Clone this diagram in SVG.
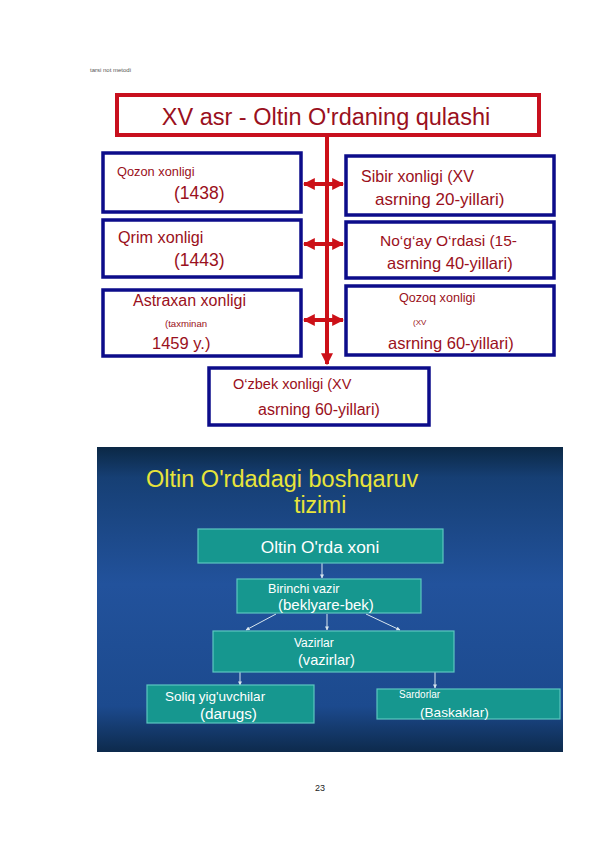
<svg xmlns="http://www.w3.org/2000/svg" width="595" height="842" viewBox="0 0 595 842">
<style>
.rb{fill:#fff;stroke:#c8101e;stroke-width:4}
.bb{fill:#fff;stroke:#0c0c8a;stroke-width:3.5}
.rt{font-family:"Liberation Sans",Arial,sans-serif;fill:#9a1020}
.tb{fill:#16978f;stroke:#5cc7c0;stroke-width:1.2}
.wt{font-family:"Liberation Sans",Arial,sans-serif;fill:#fff}
.yt{font-family:"Liberation Sans",Arial,sans-serif;fill:#e8e43a}
.con{stroke:#cc1018;stroke-width:4;fill:none}
.tl{stroke:#d8e6ee;stroke-width:1;fill:none}
</style>
<defs>
<marker id="ah" viewBox="0 0 10 10" refX="9" refY="5" markerWidth="3" markerHeight="3" orient="auto-start-reverse"><path d="M0,0 L10,5 L0,10 z" fill="#cc1018"/></marker>
<marker id="wa" viewBox="0 0 10 10" refX="9" refY="5" markerWidth="4" markerHeight="4" orient="auto"><path d="M0,0 L10,5 L0,10 z" fill="#d8e6ee"/></marker>
<linearGradient id="bg" x1="0" y1="0" x2="0" y2="1">
<stop offset="0" stop-color="#0b2845"/>
<stop offset="0.1" stop-color="#163f74"/>
<stop offset="0.45" stop-color="#22529c"/>
<stop offset="0.85" stop-color="#1c4a8e"/>
<stop offset="1" stop-color="#0d2a4c"/>
</linearGradient>
</defs>
<rect width="595" height="842" fill="#fff"/>
<text x="90" y="72" font-family="Liberation Sans,Arial,sans-serif" font-size="6" fill="#555">tarsi not metodi</text>

<g id="connectors">
<line class="con" x1="327" y1="135" x2="327" y2="364" marker-end="url(#ah)"/>
<line class="con" x1="304" y1="184" x2="343" y2="184" marker-start="url(#ah)" marker-end="url(#ah)"/>
<line class="con" x1="304" y1="244" x2="343" y2="244" marker-start="url(#ah)" marker-end="url(#ah)"/>
<line class="con" x1="304" y1="320" x2="343" y2="320" marker-start="url(#ah)" marker-end="url(#ah)"/>
</g>

<g id="title">
<rect class="rb" x="117" y="95" width="422" height="40"/>
<text class="rt" x="326" y="125" font-size="23.5" text-anchor="middle">XV asr - Oltin O'rdaning qulashi</text>
</g>
<g id="qozon">
<rect class="bb" x="103" y="153" width="198" height="59"/>
<text class="rt" x="117" y="176" font-size="12.8">Qozon xonligi</text>
<text class="rt" x="174" y="199" font-size="17.5">(1438)</text>
</g>
<g id="qrim">
<rect class="bb" x="103" y="220" width="198" height="57"/>
<text class="rt" x="118" y="243" font-size="16.2">Qrim xonligi</text>
<text class="rt" x="174" y="266" font-size="17.5">(1443)</text>
</g>
<g id="astraxan">
<rect class="bb" x="103" y="290" width="198" height="66"/>
<text class="rt" x="133" y="306" font-size="16">Astraxan xonligi</text>
<text class="rt" x="165" y="327" font-size="9.6">(taxminan</text>
<text class="rt" x="152" y="349" font-size="16.5">1459 y.)</text>
</g>
<g id="sibir">
<rect class="bb" x="346" y="156" width="208" height="59"/>
<text class="rt" x="361" y="182" font-size="16">Sibir xonligi (XV</text>
<text class="rt" x="375" y="205" font-size="17">asrning 20-yillari)</text>
</g>
<g id="nogay">
<rect class="bb" x="346" y="222" width="208" height="56"/>
<text class="rt" x="380" y="246" font-size="15.5">No‘g‘ay O‘rdasi (15-</text>
<text class="rt" x="387" y="269" font-size="16.5">asrning 40-yillari)</text>
</g>
<g id="qozoq">
<rect class="bb" x="346" y="286" width="208" height="69"/>
<text class="rt" x="399" y="302" font-size="12.6">Qozoq xonligi</text>
<text class="rt" x="413" y="325" font-size="8">(XV</text>
<text class="rt" x="388" y="349" font-size="16.5">asrning 60-yillari)</text>
</g>
<g id="ozbek">
<rect class="bb" x="209" y="368" width="220" height="57"/>
<text class="rt" x="233" y="389" font-size="14.5">O‘zbek xonligi (XV</text>
<text class="rt" x="258" y="415" font-size="16">asrning 60-yillari)</text>
</g>

<rect x="97" y="447" width="466" height="305" fill="url(#bg)"/>
<text class="yt" x="146" y="487" font-size="23.5">Oltin O'rdadagi boshqaruv</text>
<text class="yt" x="294" y="513" font-size="23">tizimi</text>

<g id="connectors2">
<line class="tl" x1="322" y1="563" x2="322" y2="578" marker-end="url(#wa)"/>
<line class="tl" x1="276" y1="614" x2="246" y2="630" marker-end="url(#wa)"/>
<line class="tl" x1="327" y1="614" x2="327" y2="630" marker-end="url(#wa)"/>
<line class="tl" x1="366" y1="614" x2="400" y2="630" marker-end="url(#wa)"/>
<line class="tl" x1="240" y1="672" x2="240" y2="685" marker-end="url(#wa)"/>
<line class="tl" x1="435" y1="672" x2="435" y2="688" marker-end="url(#wa)"/>
</g>
<g id="xon">
<rect class="tb" x="198" y="529" width="245" height="34"/>
<text class="wt" x="320" y="553" font-size="17.3" text-anchor="middle">Oltin O'rda xoni</text>
</g>
<g id="vazir1">
<rect class="tb" x="237" y="579" width="184" height="34"/>
<text class="wt" x="268" y="593" font-size="12.6">Birinchi vazir</text>
<text class="wt" x="278" y="610" font-size="15">(beklyare-bek)</text>
</g>
<g id="vazirlar">
<rect class="tb" x="213" y="631" width="241" height="41"/>
<text class="wt" x="294" y="647" font-size="12">Vazirlar</text>
<text class="wt" x="298" y="665" font-size="14.6">(vazirlar)</text>
</g>
<g id="soliq">
<rect class="tb" x="147" y="685" width="167" height="38"/>
<text class="wt" x="165" y="701" font-size="13.5">Soliq yig'uvchilar</text>
<text class="wt" x="200" y="719" font-size="15.3">(darugs)</text>
</g>
<g id="sardorlar">
<rect class="tb" x="377" y="689" width="183" height="30"/>
<text class="wt" x="399" y="698" font-size="10">Sardorlar</text>
<text class="wt" x="420" y="717" font-size="13.6">(Baskaklar)</text>
</g>

<text x="320" y="791" font-family="Liberation Sans,Arial,sans-serif" font-size="9" fill="#222" text-anchor="middle">23</text>
</svg>
